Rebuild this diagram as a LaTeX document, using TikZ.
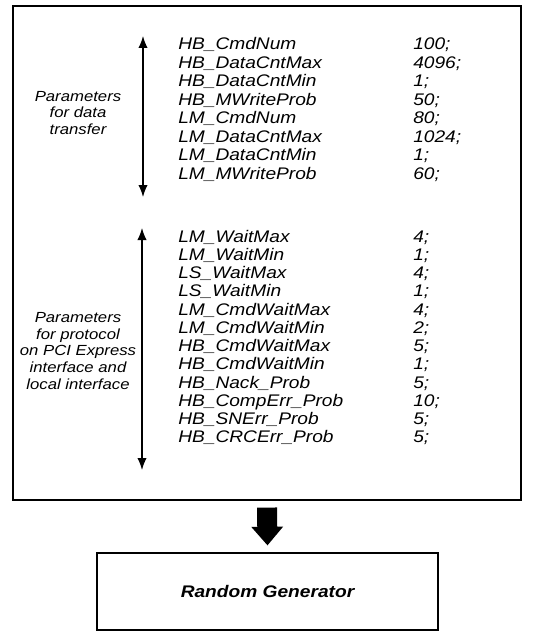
\documentclass[tikz,border=0pt]{standalone}
\usepackage{fontspec}
\setmainfont{Liberation Sans}[FakeStretch=1.14]
\usetikzlibrary{arrows.meta}

\begin{document}
\begin{tikzpicture}[x=0.75pt, y=-0.75pt, >={Latex[length=9pt,width=7pt]},
  param/.style={anchor=base west, inner sep=0pt, font=\fontsize{12.6}{14}\selectfont\itshape},
  note/.style={align=center, inner sep=0pt, font=\fontsize{11}{12.4}\selectfont\itshape},
  frame/.style={draw, line width=0.9pt, inner sep=0pt}]
\useasboundingbox (0,0) rectangle (534,631);

% outer box and generator box
\node[frame, minimum width=381pt, minimum height=370.5pt] (params) at (267,253) {};
\node[frame, minimum width=255.75pt, minimum height=57.75pt,
  font=\fontsize{12.6}{14}\selectfont\bfseries\itshape] (gen) at (267.5,591.5) {Random Generator};

% parameters for data transfer
\foreach \name/\val [count=\i from 0] in {HB\_CmdNum/100, HB\_DataCntMax/4096,
    HB\_DataCntMin/1, HB\_MWriteProb/50, LM\_CmdNum/80, LM\_DataCntMax/1024,
    LM\_DataCntMin/1, LM\_MWriteProb/60} {
  \node[param] (n\i) at (178,50+18.43*\i) {\name};
  \node[param] (v\i) at (413,50+18.43*\i) {\val;};
}
\coordinate (a1-top) at (143,36);
\coordinate (a1-bot) at (143,197);
\draw[<->, line width=0.9pt] (a1-top) -- (a1-bot);
\node[note] (lab1) at (78,113) {Parameters\\for data\\transfer};

% parameters for protocol
\foreach \name/\val [count=\j from 0] in {LM\_WaitMax/4, LM\_WaitMin/1,
    LS\_WaitMax/4, LS\_WaitMin/1, LM\_CmdWaitMax/4, LM\_CmdWaitMin/2,
    HB\_CmdWaitMax/5, HB\_CmdWaitMin/1, HB\_Nack\_Prob/5, HB\_CompErr\_Prob/10,
    HB\_SNErr\_Prob/5, HB\_CRCErr\_Prob/5} {
  \node[param] (m\j) at (178,242+18.27*\j) {\name};
  \node[param] (w\j) at (413,242+18.27*\j) {\val;};
}
\coordinate (a2-top) at (142,228);
\coordinate (a2-bot) at (142,470);
\draw[<->, line width=0.9pt] (a2-top) -- (a2-bot);
\node[note] (lab2) at (78,351) {Parameters\\for protocol\\on PCI Express\\interface and\\local interface};

% thick arrow
\draw[line width=15pt, -{Triangle[length=14pt,width=23pt]}]
  ([yshift=-5.25pt]params.south) -- ([yshift=5.25pt]gen.north);
\end{tikzpicture}
\end{document}
